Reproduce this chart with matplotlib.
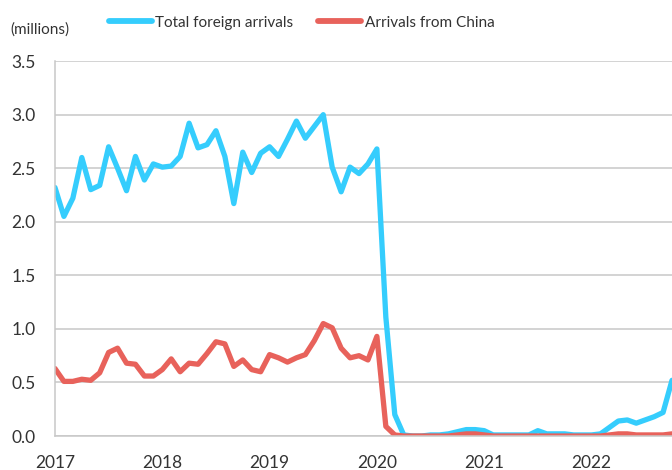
import matplotlib.pyplot as plt
import numpy as np

plt.rcParams['font.family'] = ['Lato', 'DejaVu Sans']

# monthly values, Jan 2017 .. Oct 2022 (millions)
total_foreign = [2.32, 2.05, 2.22, 2.60, 2.30, 2.34, 2.70, 2.50, 2.29, 2.61, 2.39, 2.54,
                 2.51, 2.52, 2.61, 2.92, 2.69, 2.72, 2.85, 2.61, 2.17, 2.65, 2.46, 2.64,
                 2.70, 2.61, 2.77, 2.94, 2.78, 2.89, 3.00, 2.51, 2.28, 2.51, 2.45, 2.54,
                 2.68, 1.11, 0.20, 0.01, 0.00, 0.00, 0.01, 0.01, 0.02, 0.04, 0.06, 0.06,
                 0.05, 0.01, 0.01, 0.01, 0.01, 0.01, 0.05, 0.02, 0.02, 0.02, 0.01, 0.01,
                 0.01, 0.02, 0.08, 0.14, 0.15, 0.12, 0.15, 0.18, 0.22, 0.52]
from_china = [0.63, 0.51, 0.51, 0.53, 0.52, 0.59, 0.78, 0.82, 0.68, 0.67, 0.56, 0.56,
              0.62, 0.72, 0.60, 0.68, 0.67, 0.77, 0.88, 0.86, 0.65, 0.71, 0.62, 0.60,
              0.76, 0.73, 0.69, 0.73, 0.76, 0.89, 1.05, 1.01, 0.82, 0.73, 0.75, 0.71,
              0.93, 0.09, 0.01, 0.00, 0.00, 0.00, 0.00, 0.00, 0.00, 0.01, 0.02, 0.02,
              0.01, 0.00, 0.00, 0.00, 0.00, 0.00, 0.00, 0.00, 0.00, 0.00, 0.00, 0.00,
              0.00, 0.00, 0.01, 0.02, 0.02, 0.01, 0.01, 0.01, 0.01, 0.02]
year_labels = ['2017', '2018', '2019', '2020', '2021', '2022']

months = np.arange(len(total_foreign))

fig = plt.figure(figsize=(6.72, 4.70), dpi=100)
ax = fig.add_axes([0.0818, 0.0723, 0.9182, 0.7977])

ax.plot(months, total_foreign, color='#35cdfd', lw=3.8, solid_capstyle='round',
        solid_joinstyle='round', label='Total foreign arrivals')
ax.plot(months, from_china, color='#e8625b', lw=3.8, solid_capstyle='round',
        solid_joinstyle='round', label='Arrivals from China')

ax.set_xlim(0, len(total_foreign) - 1)
ax.set_ylim(0, 3.5)
ax.set_yticks(np.arange(0, 3.51, 0.5))
ax.set_yticklabels([f'{v:.1f}' for v in np.arange(0, 3.51, 0.5)])
ax.set_xticks(np.arange(len(year_labels)) * 12)
ax.set_xticklabels(year_labels)

ax.grid(axis='y', color='#c8c8c8', lw=1.1)
ax.set_axisbelow(True)
for s in ['top', 'right']:
    ax.spines[s].set_visible(False)
ax.spines['left'].set_color('#c8c8c8')
ax.spines['bottom'].set_color('#c8c8c8')
ax.spines['left'].set_linewidth(1.1)
ax.spines['bottom'].set_linewidth(1.1)
ax.tick_params(length=0, labelsize=12.5, colors='#333333')
ax.tick_params(axis='y', pad=14)
ax.tick_params(axis='x', pad=14)

fig.text(0.015, 0.938, '(millions)', fontsize=11, color='#333333', va='center')
leg = fig.legend(loc='center left', bbox_to_anchor=(0.162, 0.952), ncol=2, frameon=False,
                 fontsize=11, handlelength=2.8, handletextpad=0.25, columnspacing=1.6,
                 borderpad=0, borderaxespad=0, labelcolor='#333333')
for ln in leg.get_lines():
    ln.set_linewidth(4.2)

fig.savefig('out.png', dpi=100)
